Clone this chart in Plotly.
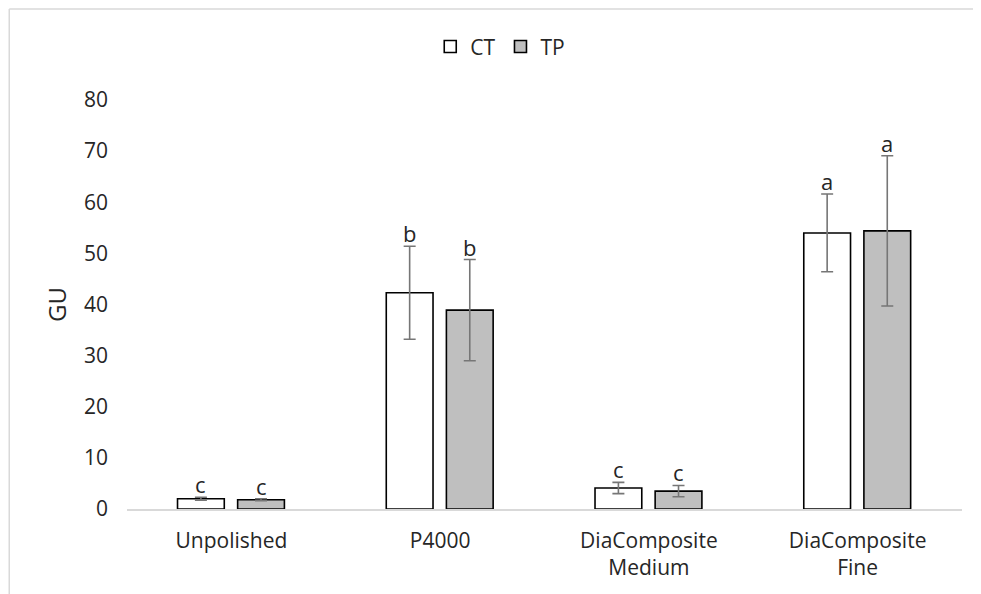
import plotly.graph_objects as go

categories = ["Unpolished", "P4000", "DiaComposite<br>Medium", "DiaComposite<br>Fine"]
ct_values = [2.0, 42.3, 4.1, 54.0]
ct_errors = [0.3, 9.1, 1.1, 7.6]
tp_values = [1.8, 38.9, 3.5, 54.4]
tp_errors = [0.2, 9.9, 1.1, 14.7]
ct_letters = ["c", "b", "c", "a"]
tp_letters = ["c", "b", "c", "a"]
y_ticks = [0, 10, 20, 30, 40, 50, 60, 70, 80]

FONT = "'Open Sans', 'Noto Sans', sans-serif"
TXT = "#262626"
BAR_W = 0.224
CT_OFF = -0.258
TP_OFF = 0.03

fig = go.Figure()
fig.add_trace(go.Bar(
    name="CT", x=categories, y=ct_values, width=BAR_W, offset=CT_OFF,
    marker=dict(color="#ffffff", line=dict(color="#000000", width=1.6)),
    error_y=dict(type="data", array=ct_errors, visible=True, color="#767676", thickness=1.6, width=6),
))
fig.add_trace(go.Bar(
    name="TP", x=categories, y=tp_values, width=BAR_W, offset=TP_OFF,
    marker=dict(color="#bfbfbf", line=dict(color="#000000", width=1.6)),
    error_y=dict(type="data", array=tp_errors, visible=True, color="#767676", thickness=1.6, width=6),
))

for i in range(len(categories)):
    for vals, errs, letters, off in ((ct_values, ct_errors, ct_letters, CT_OFF),
                                     (tp_values, tp_errors, tp_letters, TP_OFF)):
        fig.add_annotation(
            x=i + off + BAR_W / 2, y=vals[i] + errs[i], xref="x", yref="y",
            text=letters[i], showarrow=False, yanchor="bottom", yshift=-4,
            font=dict(family=FONT, size=22, color=TXT),
        )

# outer chart frame (top and left edges visible)
fig.add_shape(type="line", xref="paper", yref="paper", x0=-0.141, x1=1.1, y0=1.2225, y1=1.2225,
              line=dict(color="#d9d9d9", width=1.5))
fig.add_shape(type="line", xref="paper", yref="paper", x0=-0.141, x1=-0.141, y0=-0.3, y1=1.2225,
              line=dict(color="#d9d9d9", width=1.5))

fig.update_layout(
    width=981, height=594,
    margin=dict(l=119, r=27, t=92, b=93),
    paper_bgcolor="white", plot_bgcolor="white",
    barmode="overlay",
    showlegend=True,
    legend=dict(orientation="h", x=0.447, xanchor="center", y=1.13, yanchor="middle",
                font=dict(family=FONT, size=21, color=TXT), itemwidth=30,
                traceorder="normal", bgcolor="rgba(0,0,0,0)"),
    font=dict(family=FONT, color=TXT),
    xaxis=dict(showline=True, linecolor="#d9d9d9", linewidth=1.5, ticks="",
               tickfont=dict(family=FONT, size=21, color=TXT), showgrid=False,
               ticklabelstandoff=12, range=[-0.5, 3.5]),
    yaxis=dict(range=[0, 80], tickvals=y_ticks, showgrid=False, zeroline=False,
               showline=False, ticks="", tickfont=dict(family=FONT, size=21, color=TXT),
               ticklabelstandoff=18,
               title=dict(text="GU", font=dict(family=FONT, size=24, color=TXT), standoff=10)),
)

fig.write_html("out.html")
